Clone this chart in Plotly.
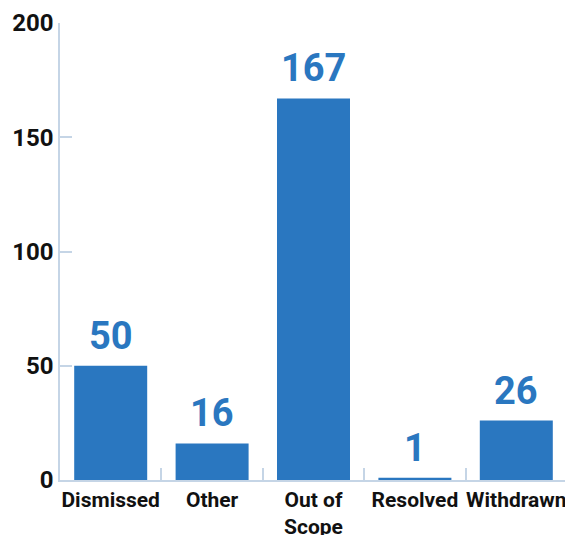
import plotly.graph_objects as go

categories = ["Dismissed", "Other", "Out of<br>Scope", "Resolved", "Withdrawn"]
values = [50, 16, 167, 1, 26]
y_ticks = [0, 50, 100, 150, 200]

blue = "#2a77c0"
axis_col = "#c5d5e6"

fig = go.Figure(go.Bar(
    x=categories, y=values,
    marker=dict(color=blue, line=dict(width=0)),
))

for c, v in zip(categories, values):
    fig.add_annotation(
        x=c, y=v, text=str(v), showarrow=False,
        yanchor="bottom", yshift=6,
        font=dict(family="Roboto", size=38, color=blue, weight="bold"),
    )

fig.update_layout(
    width=565, height=527,
    margin=dict(l=52, r=6, t=15, b=55),
    plot_bgcolor="white", paper_bgcolor="white",
    bargap=0.28,
    showlegend=False,
    font=dict(family="Roboto", color="#111111"),
)
fig.update_xaxes(
    automargin=False, tickangle=0,
    showline=True, linecolor=axis_col, linewidth=1.5,
    ticks="inside", tickson="boundaries", ticklen=12, tickcolor=axis_col, tickwidth=1.5,
    tickfont=dict(family="Roboto", size=21, color="#111111", weight="bold"),
    showgrid=False,
)
fig.update_yaxes(
    automargin=False,
    range=[0, 200], tickvals=y_ticks,
    showline=True, linecolor=axis_col, linewidth=1.5,
    ticks="inside", ticklen=12, tickcolor=axis_col, tickwidth=1.5,
    tickfont=dict(family="Roboto", size=24, color="#111111", weight="bold"),
    showgrid=False, zeroline=False,
)

fig.write_html("out.html")
